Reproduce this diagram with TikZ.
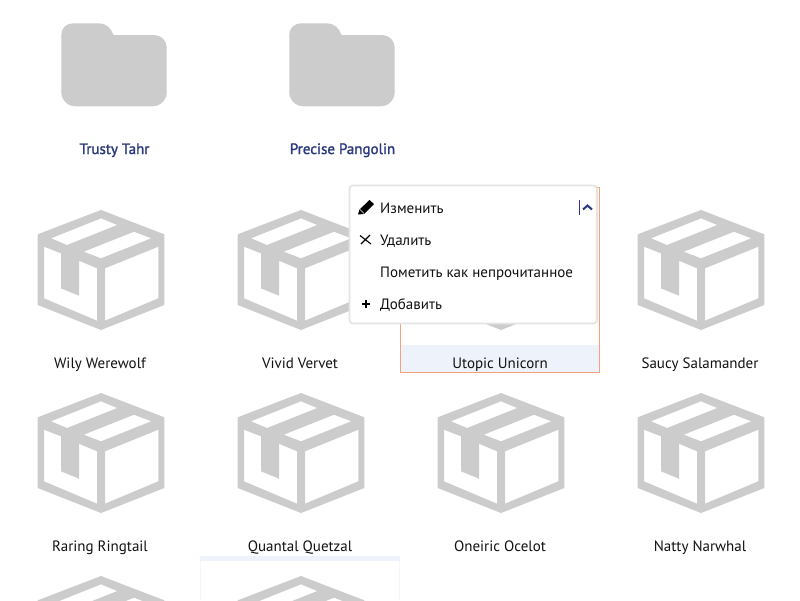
\documentclass[tikz,border=0pt]{standalone}
\usepackage{fontspec}
\setmainfont{PT Sans}
\newfontfamily\semib[FakeBold=1.6]{PT Sans}
\definecolor{icongray}{HTML}{CCCCCC}
\definecolor{navy}{HTML}{2B3A7E}
\definecolor{ink}{HTML}{111111}
\definecolor{band}{HTML}{EEF2FA}
\definecolor{orangeline}{HTML}{F4A27A}
\definecolor{menuline}{HTML}{E4E4E4}
\newcommand{\pkgicon}[2]{%
  \fill[icongray,even odd rule,shift={(#1,#2)}]
    (0,0) -- (63.3,24.3) -- (63.3,95) -- (0,120) -- (-63.3,95) -- (-63.3,24.3) -- cycle
    (-57,36.7) -- (-40,43.3) -- (-40,78.3) -- (-22,85.7) -- (-22,50.7) -- (-4,58.3) -- (-4,110.7) -- (-57,88.3) -- cycle
    (4,58.3) -- (57.3,36.7) -- (57.3,88.3) -- (4,110.7) -- cycle
    (-50,28.3) -- (0,8.3) -- (16.3,15) -- (-34,35) -- cycle
    (-17.3,41.7) -- (33,21.7) -- (50.3,28.3) -- (0,48.3) -- cycle;}
\newcommand{\foldericon}[1]{%
  \fill[icongray,shift={(#1,0)}]
    (61.3,35) .. controls (61.3,28) and (66.5,23.3) .. (73,23.3) -- (99,23.3)
    .. controls (106,23.3) and (111,28) .. (113.5,35) -- (154,35)
    .. controls (161,35) and (166.7,40.5) .. (166.7,47.5) -- (166.7,92)
    .. controls (166.7,100) and (160.5,106.3) .. (152.5,106.3) -- (75.5,106.3)
    .. controls (67.5,106.3) and (61.3,100) .. (61.3,92) -- cycle;}
\tikzset{
  lbl/.style={text=ink,font=\fontsize{15}{17}\selectfont,inner sep=0pt,anchor=base},
  folderlbl/.style={text=navy,font=\fontsize{15}{17}\selectfont\semib,inner sep=0pt,anchor=base},
  menuitem/.style={text=ink,font=\fontsize{15}{17}\selectfont,inner sep=0pt,anchor=base west},
}
\begin{document}
\begin{tikzpicture}[x=1pt,y=-1pt]
\useasboundingbox (0,0) rectangle (800,600);
\fill[white] (0,0) rectangle (800,600);
\begin{scope}
\clip (0,0) rectangle (800,600);
% selected tile
\fill[band] (401,345) rectangle (599,372);
\draw[orangeline,line width=1pt] (400.5,187) rectangle (599.5,372.5);
% lower tile
\fill[band] (200,556) rectangle (400,561);
\draw[band!70!white,line width=1pt] (200.5,560.5) -- (200.5,600) (399.5,560.5) -- (399.5,600);
\foldericon{0}
\foldericon{228}
\foreach \cx in {101,301,501,701}{\pkgicon{\cx}{210}\pkgicon{\cx}{393}}
\foreach \cx in {101,301}{\pkgicon{\cx}{576}}
\end{scope}
\node[folderlbl] (trusty) at (114.5,154) {Trusty Tahr};
\node[folderlbl] (precise) at (342.5,154) {Precise Pangolin};
\node[lbl] (wily) at (100,368) {Wily Werewolf};
\node[lbl] (vivid) at (300,368) {Vivid Vervet};
\node[lbl] (utopic) at (500,368) {Utopic Unicorn};
\node[lbl] (saucy) at (700,368) {Saucy Salamander};
\node[lbl] (raring) at (100,551) {Raring Ringtail};
\node[lbl] (quantal) at (300,551) {Quantal Quetzal};
\node[lbl] (oneiric) at (500,551) {Oneiric Ocelot};
\node[lbl] (natty) at (700,551) {Natty Narwhal};
% menu
\draw[menuline,fill=white,line width=1.8pt,rounded corners=3.5pt] (349.5,185.5) rectangle (597,323.5);
\node[menuitem] (edit) at (380,213) {Изменить};
\node[menuitem] (del) at (380,245) {Удалить};
\node[menuitem] (mark) at (380,277) {Пометить как непрочитанное};
\node[menuitem] (add) at (380,309) {Добавить};
% pencil
\fill[black] (358,214.5) -- (359.5,209.5) -- (369.5,200) -- (374,204) -- (364,214) -- cycle;
\draw[white,line width=.5pt] (360,209.5) -- (364,213.5);
% cross
\draw[black,line width=1.1pt] (360,235.5) -- (371,244) (370,235) -- (361,244);
% plus
\draw[black,line width=1.5pt] (362,304) -- (370,304) (366,300) -- (366,308);
% cursor and chevron
\draw[navy,line width=1pt] (579.5,200) -- (579.5,214.5);
\draw[navy,line width=2pt] (583,209.5) -- (587.5,205.5) -- (592,209.5);
\end{tikzpicture}
\end{document}
